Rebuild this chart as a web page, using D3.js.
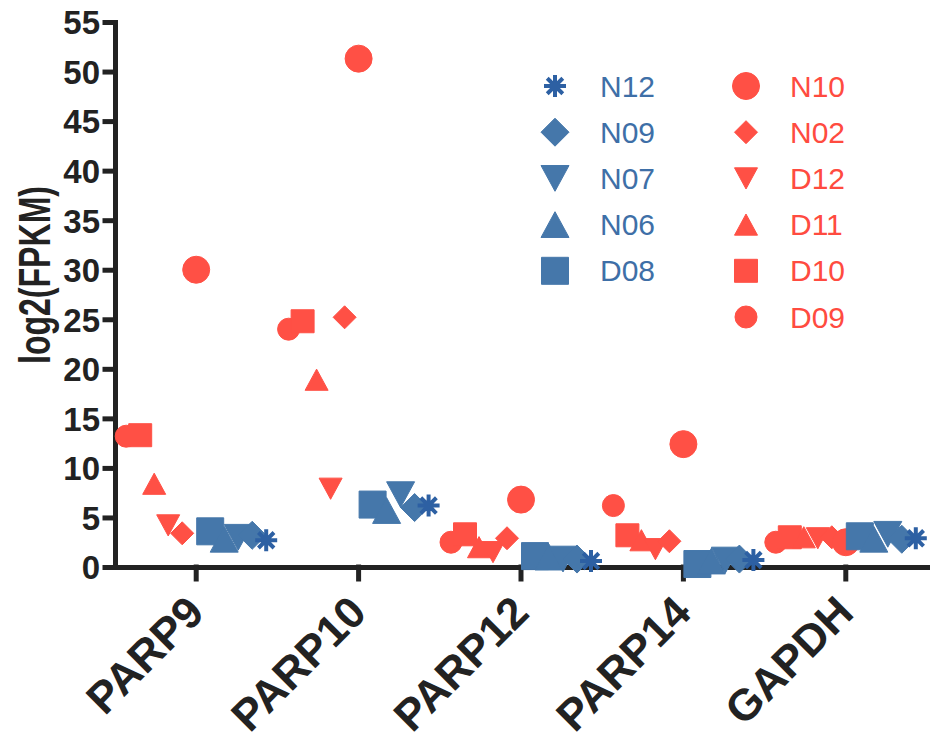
<!DOCTYPE html>
<html>
<head>
<meta charset="utf-8">
<script src="https://cdn.jsdelivr.net/npm/d3@7"></script>
<style>
  body { margin: 0; background: #fff; }
  svg { display: block; font-family: "Liberation Sans", Arial, sans-serif; }
</style>
</head>
<body>
<script>
// genes on the x axis
var genes = ["PARP9", "PARP10", "PARP12", "PARP14", "GAPDH"];
// samples in plotting order (left to right inside each gene)
var samples = ["D09", "D10", "D11", "D12", "N02", "N10", "D08", "N06", "N07", "N09", "N12"];
var yTicks = [0, 5, 10, 15, 20, 25, 30, 35, 40, 45, 50, 55];

// log2(FPKM) per sample, one value per gene
var D09 = [13.2, 24.0, 2.5, 6.2, 2.5];
var D10 = [13.3, 24.8, 3.3, 3.2, 3.0];
var D11 = [8.4, 18.9, 2.0, 2.7, 3.0];
var D12 = [4.2, 7.9, 1.5, 1.8, 2.9];
var N02 = [3.4, 25.2, 2.9, 2.6, 3.0];
var N10 = [30.0, 51.3, 6.8, 12.4, 2.5];
var D08 = [3.6, 6.3, 1.1, 0.3, 3.1];
var N06 = [2.8, 5.7, 1.0, 0.6, 2.8];
var N07 = [3.0, 7.3, 0.8, 0.7, 3.3];
var N09 = [3.2, 6.0, 0.8, 0.8, 2.8];
var N12 = [2.7, 6.2, 0.6, 0.7, 2.9];
var values = { D09: D09, D10: D10, D11: D11, D12: D12, N02: N02, N10: N10,
               D08: D08, N06: N06, N07: N07, N09: N09, N12: N12 };

var legendBlue = ["N12", "N09", "N07", "N06", "D08"];
var legendRed = ["N10", "N02", "D12", "D11", "D10", "D09"];

// look of each sample: shape, size in px, colour
var red = "#ff5045", blue = "#4577aa", star = "#2d60a3";
var style = {
  D09: { shape: "circle", size: 22, color: red },
  D10: { shape: "square", size: 23, color: red },
  D11: { shape: "up", size: 23, color: red },
  D12: { shape: "down", size: 23, color: red },
  N02: { shape: "diamond", size: 23, color: red },
  N10: { shape: "circle", size: 27, color: red },
  D08: { shape: "square", size: 27, color: blue },
  N06: { shape: "up", size: 28, color: blue },
  N07: { shape: "down", size: 28, color: blue },
  N09: { shape: "diamond", size: 28, color: blue },
  N12: { shape: "asterisk", size: 22, color: star }
};

function shapePath(shape, s) {
  var h = s / 2;
  var p = d3.path();
  if (shape == "circle") { p.arc(0, 0, h, 0, 2 * Math.PI); }
  else if (shape == "square") { p.rect(-h, -h, s, s); }
  else if (shape == "diamond") { p.moveTo(0, -h); p.lineTo(h, 0); p.lineTo(0, h); p.lineTo(-h, 0); p.closePath(); }
  else if (shape == "up") { var t = s * 0.46; p.moveTo(0, -t); p.lineTo(h, t); p.lineTo(-h, t); p.closePath(); }
  else if (shape == "down") { var t = s * 0.46; p.moveTo(0, t); p.lineTo(h, -t); p.lineTo(-h, -t); p.closePath(); }
  else if (shape == "asterisk") {
    for (var k = 0; k < 4; k++) {
      var a = k * Math.PI / 4;
      p.moveTo(-h * Math.cos(a), -h * Math.sin(a));
      p.lineTo(h * Math.cos(a), h * Math.sin(a));
    }
  }
  return p.toString();
}

function drawMarker(sel, name) {
  var st = style[name];
  if (st.shape == "asterisk") {
    sel.attr("d", shapePath(st.shape, st.size)).attr("fill", "none")
      .attr("stroke", st.color).attr("stroke-width", 4);
  } else {
    sel.attr("d", shapePath(st.shape, st.size)).attr("fill", st.color)
      .attr("stroke", st.color).attr("stroke-width", 1).attr("stroke-linejoin", "round");
  }
}

var width = 932, height = 743;
var mLeft = 115, mRight = 927, mTop = 22, mBottom = 567;

var svg = d3.select("body").append("svg")
  .attr("width", width).attr("height", height);

var x = d3.scaleBand().domain(genes).range([mLeft, mRight]);
var offset = d3.scalePoint().domain(samples).range([-70, 70]);
var y = d3.scaleLinear().domain([0, 55]).range([mBottom, mTop]);

// axes
var yAxis = d3.axisLeft(y).tickValues(yTicks).tickSize(10).tickSizeOuter(0).tickPadding(5);
var gy = svg.append("g").attr("transform", "translate(" + mLeft + ",0)").call(yAxis);
gy.selectAll("text").attr("font-size", 33).attr("font-weight", "bold").attr("fill", "#222")
  .attr("font-family", "Liberation Sans, Arial, sans-serif").attr("dy", "0.36em");

var xAxis = d3.axisBottom(x).tickSize(12).tickSizeOuter(0);
var gx = svg.append("g").attr("transform", "translate(0," + mBottom + ")").call(xAxis);
gx.selectAll("text")
  .attr("font-size", 44).attr("font-weight", "bold").attr("fill", "#222")
  .attr("font-family", "Liberation Sans, Arial, sans-serif")
  .attr("text-anchor", "end").attr("x", 10).attr("y", 48).attr("dy", 0)
  .attr("transform", "rotate(-45,10,48)");

svg.selectAll(".domain, .tick line").attr("stroke", "#222").attr("stroke-width", 5)
  .attr("stroke-linecap", "square");

// points
var pts = [];
genes.forEach(function (g, gi) {
  samples.forEach(function (s) { pts.push({ gene: g, sample: s, v: values[s][gi] }); });
});
svg.append("g").selectAll("path").data(pts).enter()
  .append("path")
  .attr("transform", function (d) {
    return "translate(" + (x(d.gene) + x.bandwidth() / 2 + offset(d.sample)) + "," + y(d.v) + ")";
  })
  .each(function (d) { drawMarker(d3.select(this), d.sample); });

// y title
svg.append("text")
  .attr("transform", "translate(50," + 275 + ") rotate(-90)")
  .attr("text-anchor", "middle")
  .attr("font-size", 44).attr("font-weight", "bold").attr("fill", "#222")
  .attr("textLength", 178).attr("lengthAdjust", "spacingAndGlyphs")
  .text("log2(FPKM)");

// legend
function legend(list, sx, tx, textColor) {
  var g = svg.append("g");
  list.forEach(function (name, i) {
    var cy = 86 + i * 46.2;
    g.append("path").attr("transform", "translate(" + sx + "," + cy + ")")
      .call(drawMarker, name);
    g.append("text").attr("x", tx).attr("y", cy + 10.5)
      .attr("font-size", 30).attr("fill", textColor).text(name);
  });
}
legend(legendBlue, 555, 600, "#3e6fa7");
legend(legendRed, 746, 790, "#ff4b40");
</script>
</body>
</html>
